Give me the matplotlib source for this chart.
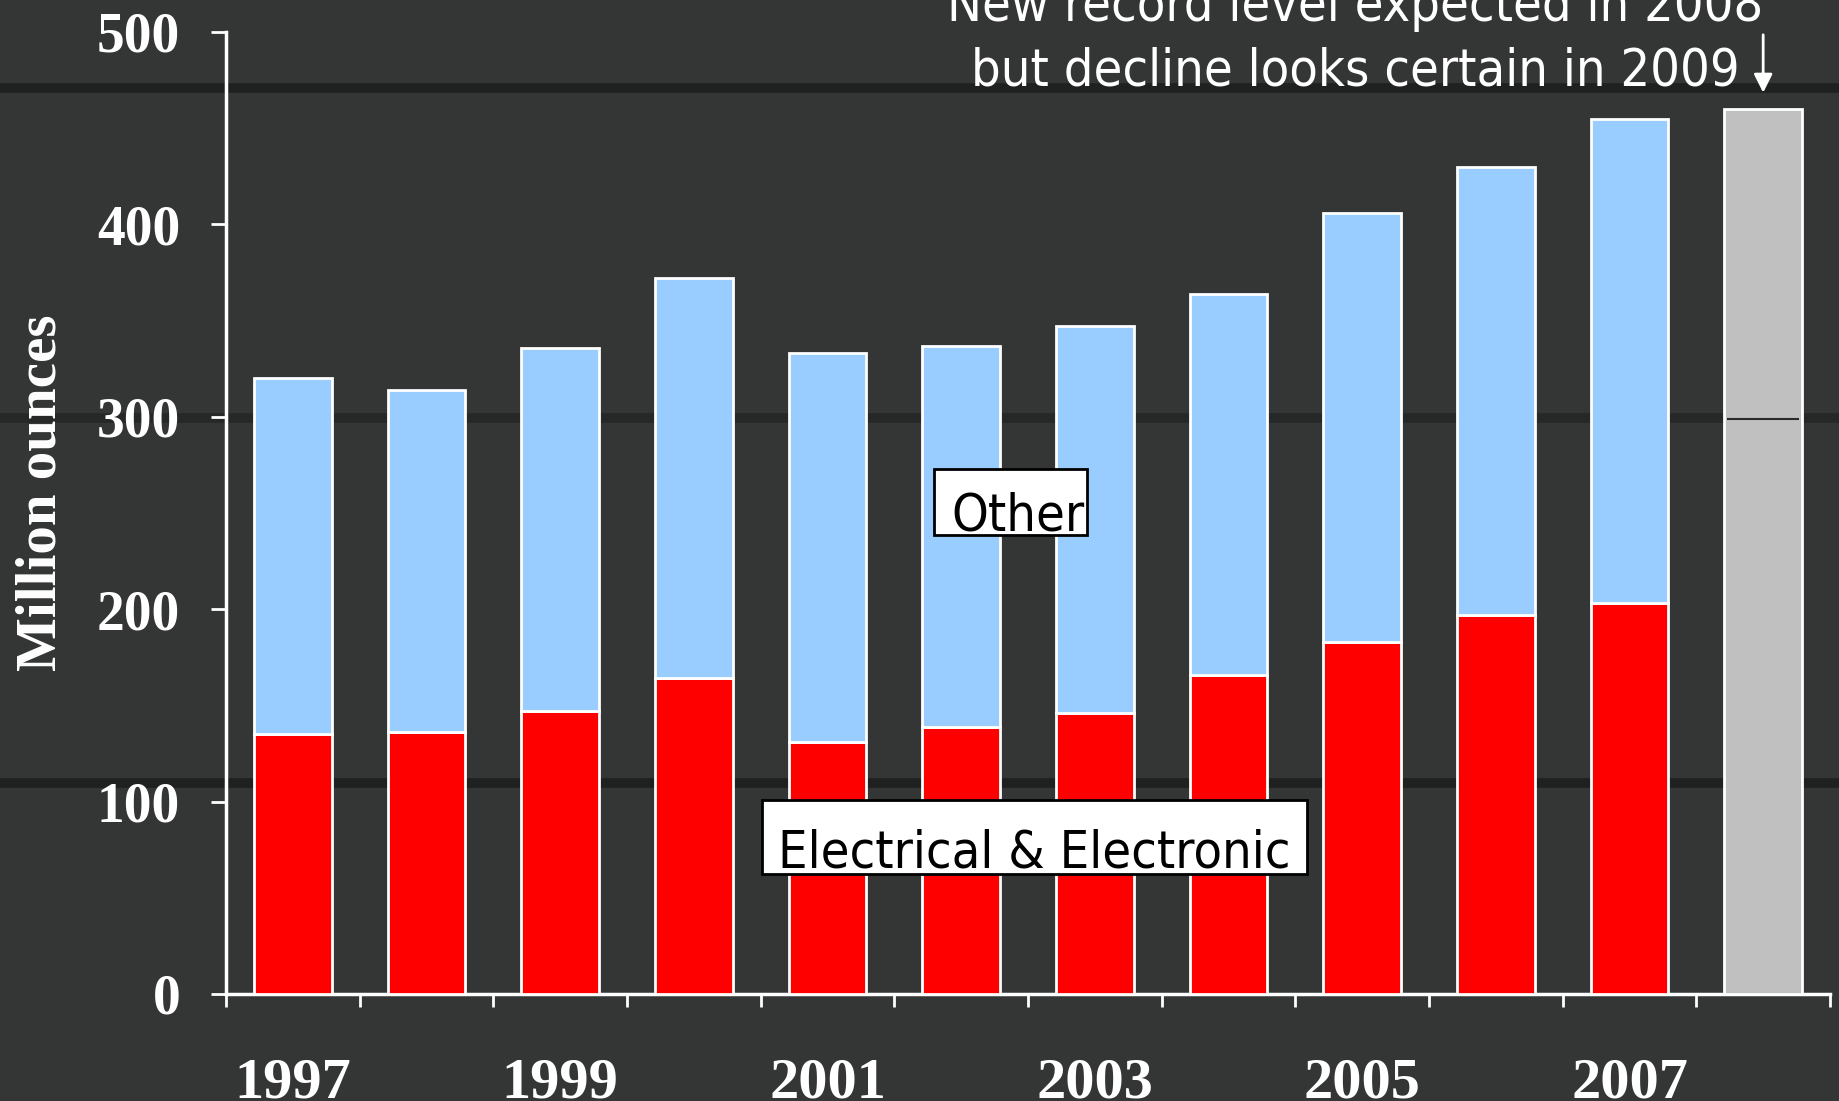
#!/usr/bin/env python3

import matplotlib
matplotlib.use('Agg')
import matplotlib.pyplot as plt
from matplotlib import font_manager
from matplotlib.textpath import TextPath
from matplotlib.patches import Rectangle
from matplotlib.lines import Line2D

# values (million ounces)
years = [1997, 1998, 1999, 2000, 2001, 2002, 2003, 2004, 2005, 2006, 2007]
electrical = [135, 136, 147, 164, 131, 139, 146, 166, 183, 197, 203]
total = [320, 314, 336, 372, 333, 337, 347, 364, 406, 430, 455]
other = [t - e for t, e in zip(total, electrical)]
forecast_year = 2008
forecast_total = 460
forecast_split = 299
year_labels = ["1997", "1999", "2001", "2003", "2005", "2007"]

bg = "#343535"
red = "#ff0000"
blue = "#99ccff"
grey = "#c0c0c0"
serif = ["Liberation Serif", "DejaVu Serif"]


def pick_narrow():
    # a condensed sans face of about normal weight, if there is one
    cands = []
    for f in font_manager.fontManager.ttflist:
        cond = ("condensed" in str(f.stretch) or "Narrow" in f.name or "Condensed" in f.name)
        if cond and f.style == "normal":
            w = f.weight if isinstance(f.weight, (int, float)) else 400
            cands.append((abs(w - 400), f.fname))
    if cands:
        cands.sort()
        return font_manager.FontProperties(fname=cands[0][1])
    return font_manager.FontProperties(family="Liberation Sans")


def main():
    fp = pick_narrow()
    # size so that "Electrical & Electronic" is about 504 px wide, as in the picture
    ext = TextPath((0, 0), "Electrical & Electronic", size=40, prop=fp).get_extents()
    nsize = 40 * (504 * 0.72) / ext.width
    fp.set_size(nsize)

    fig = plt.figure(figsize=(18.39, 11.01), dpi=100)
    fig.patch.set_facecolor(bg)

    # dark mortar lines of the stone wall behind
    for yy, a in [(0.92, 0.8), (0.62, 0.5), (0.289, 0.8)]:
        fig.add_artist(Line2D([0, 1], [yy, yy], color="#1a1b1b", lw=7, alpha=a, zorder=0))

    ax = fig.add_axes([226 / 1839, 1 - 994 / 1101, (1830 - 226) / 1839, (994 - 32) / 1101])
    ax.set_facecolor("none")

    x = list(range(len(years)))
    w = 0.58
    ax.bar(x, electrical, width=w, color=red, edgecolor="white", linewidth=2, zorder=3)
    ax.bar(x, other, bottom=electrical, width=w, color=blue, edgecolor="white", linewidth=2, zorder=3)
    xf = len(years)
    ax.bar([xf], [forecast_total], width=w, color=grey, edgecolor="white", linewidth=2, zorder=3)
    ax.hlines(forecast_split, xf - w / 2 + 0.02, xf + w / 2 - 0.02, color="#2a2a2a", lw=1.5, zorder=4)

    ax.set_xlim(-0.5, len(years) + 0.5)
    ax.set_ylim(0, 500)

    for s in ["top", "right"]:
        ax.spines[s].set_visible(False)
    for s in ["left", "bottom"]:
        ax.spines[s].set_color("white")
        ax.spines[s].set_linewidth(2.5)

    ax.set_yticks([0, 100, 200, 300, 400, 500])
    ax.tick_params(axis="y", colors="white", length=11, width=2, pad=22, labelsize=40)
    all_years = years + [forecast_year]
    ax.set_xticks([i for i, yv in enumerate(all_years) if str(yv) in year_labels])
    ax.set_xticklabels(year_labels)
    ax.set_xticks([i - 0.5 for i in range(len(all_years) + 1)], minor=True)
    ax.tick_params(axis="x", which="major", length=0, colors="white", pad=46, labelsize=42)
    ax.tick_params(axis="x", which="minor", length=9, width=2, color="white")
    for lab in ax.get_xticklabels() + ax.get_yticklabels():
        lab.set_family(serif)
        lab.set_fontweight("bold")

    fig.text(42 / 1839, 0.552, "Million ounces", rotation=90, ha="center", va="center",
             color="white", fontsize=41, fontweight="bold", family=serif)

    # series labels in boxes
    ax.add_patch(Rectangle((4.80, 238.6), 1.14, 34.3, facecolor="white", edgecolor="black",
                           lw=2, zorder=5))
    ax.text(4.93, 241, "Other", fontproperties=fp, color="black", va="baseline", zorder=6)
    ax.add_patch(Rectangle((3.51, 62.4), 4.08, 38.4, facecolor="white", edgecolor="black",
                           lw=2, zorder=5))
    ax.text(3.63, 65.5, "Electrical & Electronic", fontproperties=fp, color="black",
            va="baseline", zorder=6)

    # note at the top
    ax.text(7.95, 505.7, "New record level expected in 2008", fontproperties=fp, color="white",
            ha="center", va="baseline", clip_on=False)
    ax.text(7.95, 472, "but decline looks certain in 2009", fontproperties=fp, color="white",
            ha="center", va="baseline", clip_on=False)
    ax.annotate("", xy=(xf, 467), xytext=(xf, 500), annotation_clip=False,
                arrowprops=dict(arrowstyle="-|>", color="white", lw=2, mutation_scale=28))

    fig.savefig("out.png", dpi=100, facecolor=bg)
    plt.close(fig)


if __name__ == "__main__":
    main()
